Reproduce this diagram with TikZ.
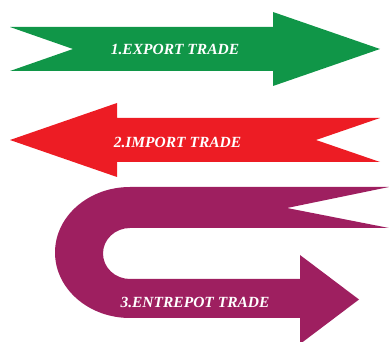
\documentclass[tikz,border=0pt]{standalone}
\usepackage{fontspec}
\setmainfont{Liberation Serif}
\usepackage{xcolor}
\usetikzlibrary{positioning}
\definecolor{exportgreen}{RGB}{16,150,72}
\definecolor{importred}{RGB}{237,28,36}
\definecolor{entrepotpurple}{RGB}{158,31,96}

\begin{document}
\begin{tikzpicture}[x=1pt,y=-1pt]
  \tikzset{Arrow/.style={draw=none}};
  \tikzset{Label/.style={text=white, font=\fontsize{15.5}{18}\selectfont\bfseries\itshape, inner sep=0pt}};
  \useasboundingbox (0,0) rectangle (389,342);
  \fill[Arrow, exportgreen] (10,27) -- (273,27) -- (273,12) -- (380,49) -- (273,86) -- (273,71) -- (10,71) -- (73,49) -- cycle;
  \fill[Arrow, importred] (10,140) -- (117,103) -- (117,118) -- (380,118) -- (316,140) -- (380,162) -- (117,162) -- (117,177) -- cycle;
  \fill[Arrow, entrepotpurple] (389,187) -- (130,187)
    arc[start angle=270, end angle=90, x radius=75, y radius=65.5]
    -- (300,318) -- (300,342) -- (302.7,342) -- (359,299.5) -- (300,255) -- (300,279) -- (130,279)
    arc[start angle=90, end angle=270, x radius=27, y radius=25.5]
    -- (389,228) -- (287,208) -- cycle;
  \node[Label] (export) at (175,49) {1.EXPORT TRADE};
  \node[Label] (import) at (177.5,142) {2.IMPORT TRADE};
  \node[Label] (entrepot) at (195,302) {3.ENTREPOT TRADE};
\end{tikzpicture}
\end{document}
